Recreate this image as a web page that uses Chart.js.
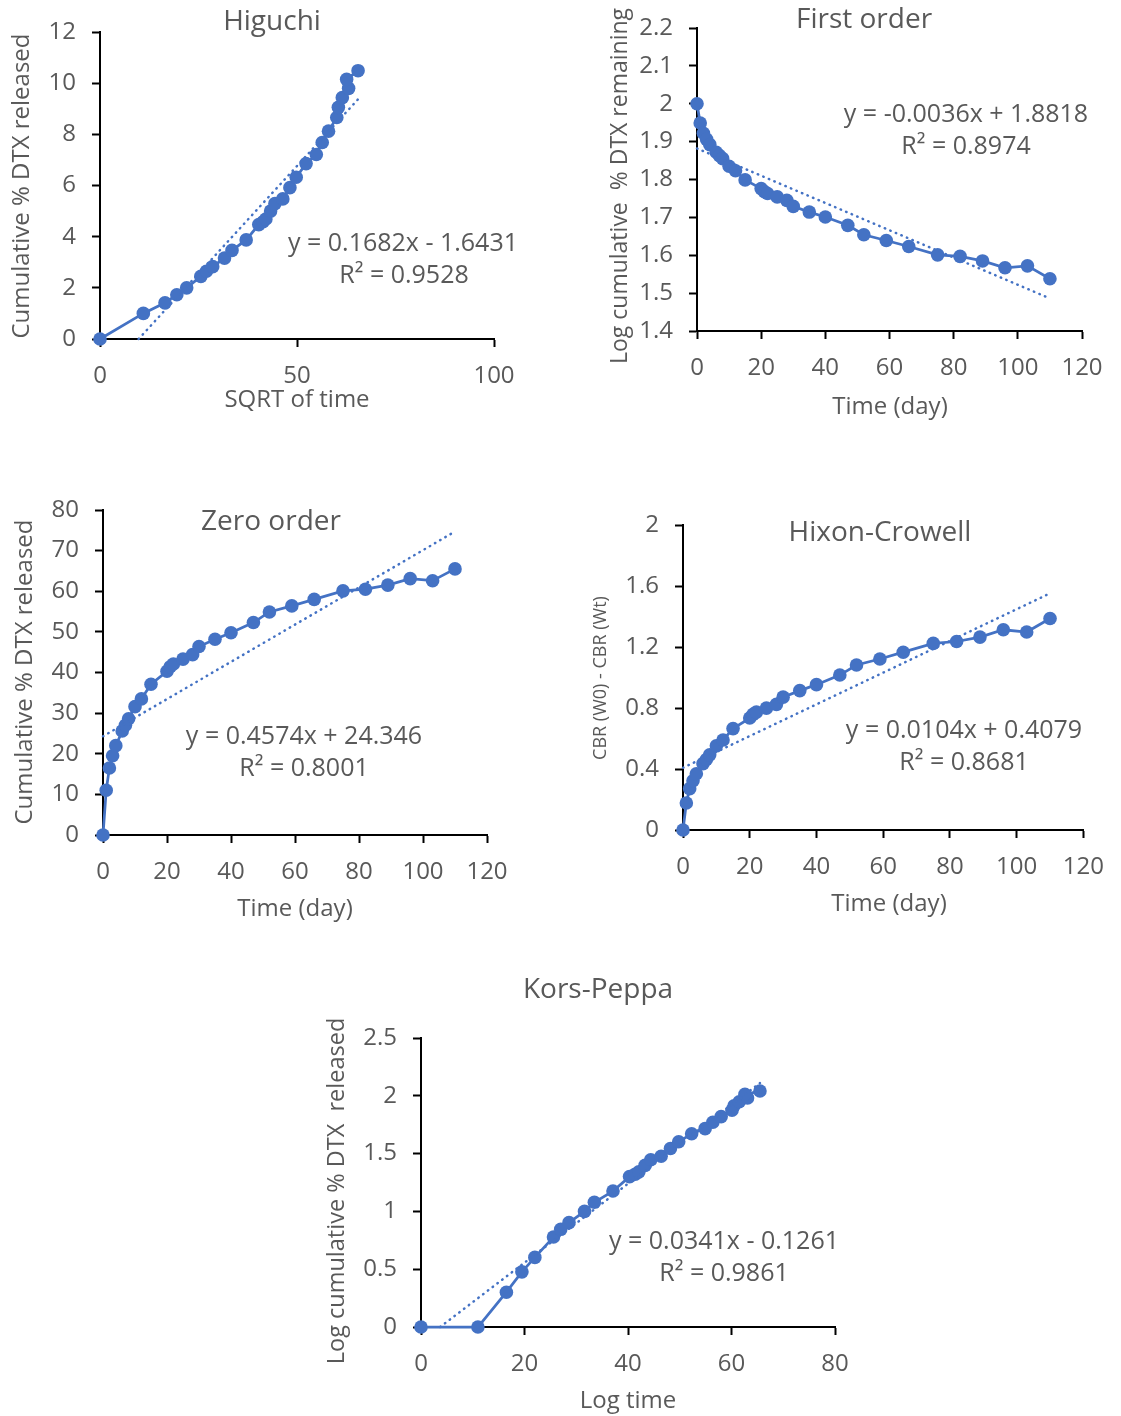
<!DOCTYPE html>
<html>
<head>
<meta charset="utf-8">
<script src="https://cdn.jsdelivr.net/npm/chart.js@4.4.1/dist/chart.umd.min.js"></script>
<style>
  body { margin: 0; background: #fff; }
  #page { position: relative; width: 1121px; height: 1416px; }
  #page canvas { position: absolute; left: 0; top: 0; }
</style>
</head>
<body>
<div id="page">
  <canvas id="higuchi" width="1121" height="1416"></canvas>
  <canvas id="first" width="1121" height="1416"></canvas>
  <canvas id="zero" width="1121" height="1416"></canvas>
  <canvas id="hixon" width="1121" height="1416"></canvas>
  <canvas id="kors" width="1121" height="1416"></canvas>
</div>
<script>
// ---- data ----
const days = [0, 1, 2, 3, 4, 6, 7, 8, 10, 12, 15, 20, 21, 22, 25, 28, 30, 35, 40, 47, 52, 59, 66, 75, 82, 89, 96, 103, 110];
// cumulative % DTX released (zero order y, and x of Higuchi / Kors-Peppa)
const released = [0, 11.0, 16.5, 19.5, 22.0, 25.6, 27.0, 28.6, 31.6, 33.5, 37.1, 40.3, 41.4, 42.1, 43.3, 44.4, 46.4, 48.2, 49.8, 52.3, 54.9, 56.4, 58.0, 60.1, 60.5, 61.5, 63.1, 62.6, 65.5];
const firstOrder = [2.000, 1.949, 1.922, 1.906, 1.892, 1.872, 1.863, 1.855, 1.835, 1.823, 1.799, 1.776, 1.768, 1.763, 1.754, 1.745, 1.729, 1.714, 1.701, 1.679, 1.654, 1.639, 1.623, 1.601, 1.597, 1.585, 1.567, 1.572, 1.538];
const hixonCrowell = [0, 0.177, 0.271, 0.323, 0.369, 0.435, 0.462, 0.493, 0.552, 0.590, 0.665, 0.734, 0.758, 0.773, 0.799, 0.824, 0.871, 0.914, 0.953, 1.016, 1.082, 1.121, 1.166, 1.224, 1.236, 1.265, 1.313, 1.298, 1.387];
const sqrtTime = [0, 1, 1.414, 1.732, 2, 2.449, 2.646, 2.828, 3.162, 3.464, 3.873, 4.472, 4.583, 4.690, 5, 5.292, 5.477, 5.916, 6.325, 6.856, 7.211, 7.681, 8.124, 8.660, 9.055, 9.434, 9.798, 10.149, 10.488];
const logTime = [0, 0, 0.301, 0.477, 0.602, 0.778, 0.845, 0.903, 1.0, 1.079, 1.176, 1.301, 1.322, 1.342, 1.398, 1.447, 1.477, 1.544, 1.602, 1.672, 1.716, 1.771, 1.820, 1.875, 1.914, 1.949, 1.982, 2.013, 2.041];

// trend lines, start and end points
const higuchiTrend = [[9.8, 0], [65.5, 9.37]];
const firstTrend = [[0, 1.882], [110, 1.486]];
const zeroTrend = [[0, 24.3], [110, 74.7]];
const hixonTrend = [[0, 0.408], [110, 1.552]];
const korsTrend = [[3.7, 0], [65.5, 2.11]];

const blue = '#4472C4';
const grey = '#595959';
const FONT = '"Open Sans", sans-serif';

function pts(xs, ys) {
  return xs.map((x, i) => ({ x: x, y: ys[i] }));
}

// draws titles, axis titles and equations at page positions
const notesPlugin = {
  id: 'notes',
  afterDraw(chart, args, opts) {
    const ctx = chart.ctx;
    (opts.items || []).forEach(t => {
      ctx.save();
      ctx.font = t.size + 'px ' + FONT;
      ctx.fillStyle = grey;
      ctx.textAlign = 'center';
      ctx.textBaseline = 'middle';
      ctx.translate(t.x, t.y);
      if (t.rotate) ctx.rotate(-Math.PI / 2);
      ctx.fillText(t.text, 0, 0);
      ctx.restore();
    });
  }
};

function axis(min, max, step, horizontal) {
  return {
    type: 'linear',
    min: min,
    max: max,
    ticks: {
      stepSize: step,
      color: grey,
      font: { family: FONT, size: 24, lineHeight: 1 },
      padding: horizontal ? 17 : 16,
      maxRotation: 0,
      autoSkip: false,
      callback: v => String(+v.toFixed(2))
    },
    grid: { drawOnChartArea: false, drawTicks: true, tickLength: 8, tickWidth: 2, tickColor: '#000' },
    border: { display: true, color: '#000', width: 2 },
    afterFit: s => { if (horizontal) s.height = 50; else s.width = 60; }
  };
}

function makeChart(id, box, series, trend, xAx, yAx, notes) {
  // box = plot area in page pixels [left, top, right, bottom]
  new Chart(document.getElementById(id), {
    type: 'scatter',
    data: {
      datasets: [
        {
          data: trend.map(p => ({ x: p[0], y: p[1] })),
          showLine: true,
          borderColor: blue,
          borderWidth: 2.5,
          borderDash: [0.5, 5.5],
          borderCapStyle: 'round',
          pointRadius: 0,
          clip: false
        },
        {
          data: series,
          showLine: true,
          borderColor: blue,
          borderWidth: 2.75,
          pointRadius: 6.8,
          pointBackgroundColor: blue,
          pointBorderColor: blue,
          pointBorderWidth: 0,
          clip: false
        }
      ]
    },
    options: {
      responsive: false,
      animation: false,
      devicePixelRatio: 1,
      layout: {
        padding: { left: box[0] - 60, top: box[1], right: 1121 - box[2], bottom: 1416 - box[3] - 50 }
      },
      scales: { x: xAx, y: yAx },
      plugins: {
        legend: { display: false },
        tooltip: { enabled: false },
        notes: { items: notes }
      }
    },
    plugins: [notesPlugin]
  });
}

makeChart('higuchi', [100, 32, 494, 339], pts(released, sqrtTime), higuchiTrend,
  axis(0, 100, 50, true), axis(0, 12, 2, false), [
    { text: 'Higuchi', x: 272, y: 22, size: 28 },
    { text: 'Cumulative % DTX released', x: 22, y: 186, size: 24, rotate: true },
    { text: 'SQRT of time', x: 297, y: 400, size: 24 },
    { text: 'y = 0.1682x - 1.6431', x: 403, y: 244, size: 25 },
    { text: 'R² = 0.9528', x: 404, y: 276, size: 25 }
  ]);

makeChart('first', [697, 15, 1082, 331], pts(days, firstOrder), firstTrend,
  axis(0, 120, 20, true), axis(1.4, 2.2, 0.1, false), [
    { text: 'First order', x: 864, y: 20, size: 28 },
    { text: 'Log cumulative  % DTX remaining', x: 620, y: 186, size: 23, rotate: true },
    { text: 'Time (day)', x: 890, y: 407, size: 24 },
    { text: 'y = -0.0036x + 1.8818', x: 966, y: 115, size: 25 },
    { text: 'R² = 0.8974', x: 966, y: 147, size: 25 }
  ]);

makeChart('zero', [103, 510, 487, 835], pts(days, released), zeroTrend,
  axis(0, 120, 20, true), axis(0, 80, 10, false), [
    { text: 'Zero order', x: 271, y: 522, size: 28 },
    { text: 'Cumulative % DTX released', x: 25, y: 672, size: 24, rotate: true },
    { text: 'Time (day)', x: 295, y: 909, size: 24 },
    { text: 'y = 0.4574x + 24.346', x: 304, y: 737, size: 25 },
    { text: 'R² = 0.8001', x: 304, y: 769, size: 25 }
  ]);

makeChart('hixon', [683, 525, 1096, 830], pts(days, hixonCrowell), hixonTrend,
  axis(0, 120, 20, true), axis(0, 2, 0.4, false), [
    { text: 'Hixon-Crowell', x: 880, y: 533, size: 28 },
    { text: 'CBR (W0) - CBR (Wt)', x: 601, y: 678, size: 18, rotate: true },
    { text: 'Time (day)', x: 889, y: 904, size: 24 },
    { text: 'y = 0.0104x + 0.4079', x: 964, y: 731, size: 25 },
    { text: 'R² = 0.8681', x: 964, y: 763, size: 25 }
  ]);

makeChart('kors', [421, 1038, 835, 1327], pts(released, logTime), korsTrend,
  axis(0, 80, 20, true), axis(0, 2.5, 0.5, false), [
    { text: 'Kors-Peppa', x: 598, y: 990, size: 28 },
    { text: 'Log cumulative % DTX  released', x: 337, y: 1191, size: 23.5, rotate: true },
    { text: 'Log time', x: 628, y: 1401, size: 24 },
    { text: 'y = 0.0341x - 0.1261', x: 724, y: 1242, size: 25 },
    { text: 'R² = 0.9861', x: 724, y: 1274, size: 25 }
  ]);
</script>
</body>
</html>
